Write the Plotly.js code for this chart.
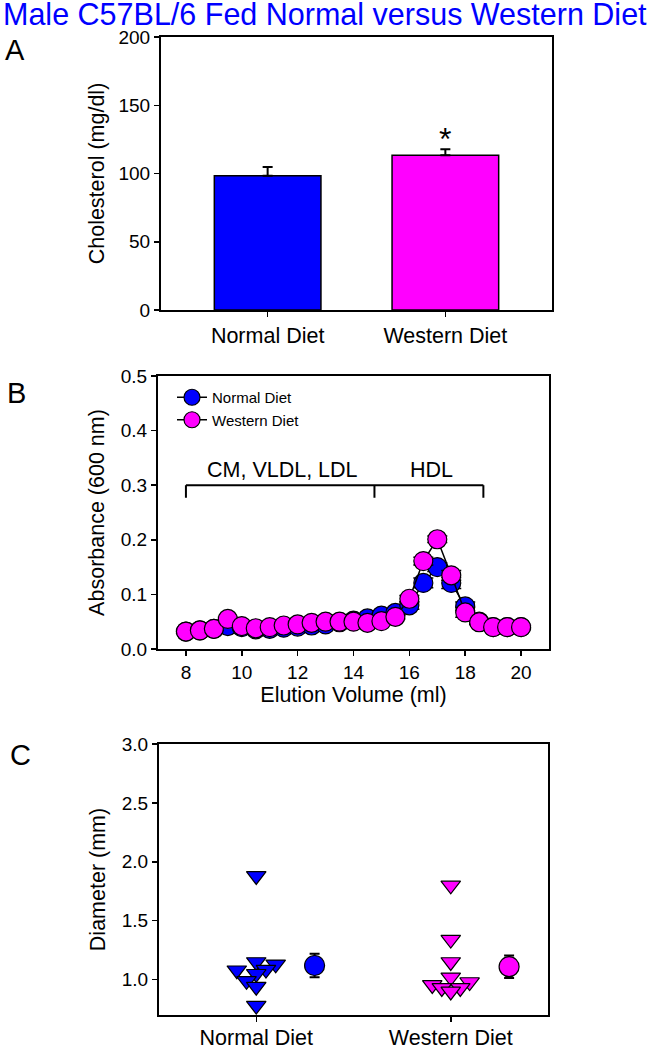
<!DOCTYPE html>
<html>
<head>
<meta charset="utf-8">
<script src="https://cdn.plot.ly/plotly-3.0.1.min.js"></script>
<style>html,body{margin:0;padding:0;background:#fff;}#chart{width:650px;height:1050px;}</style>
</head>
<body>
<div id="chart"></div>
<script>
// ---------- Data ----------
const dietGroups = ['Normal Diet', 'Western Diet'];

// Panel A: plasma cholesterol (mean, SE)
const cholesterolMean = [98.4, 113.3];
const cholesterolSE = [6.4, 4.4];

// Panel B: FPLC profile
const elutionVolume = [8, 8.5, 9, 9.5, 10, 10.5, 11, 11.5, 12, 12.5, 13, 13.5, 14, 14.5, 15, 15.5, 16, 16.5, 17, 17.5, 18, 18.5, 19, 19.5, 20];
const absNormal = [0.032, 0.034, 0.037, 0.042, 0.040, 0.036, 0.037, 0.039, 0.041, 0.043, 0.045, 0.049, 0.052, 0.056, 0.061, 0.066, 0.080, 0.121, 0.150, 0.121, 0.078, 0.050, 0.040, 0.040, 0.040];
const absNormalErr = [0.003, 0.003, 0.003, 0.003, 0.003, 0.003, 0.003, 0.003, 0.003, 0.003, 0.003, 0.003, 0.003, 0.003, 0.004, 0.004, 0.007, 0.009, 0.008, 0.010, 0.008, 0.004, 0.003, 0.003, 0.003];
const absWestern = [0.032, 0.034, 0.037, 0.055, 0.042, 0.038, 0.040, 0.043, 0.045, 0.048, 0.050, 0.050, 0.050, 0.048, 0.051, 0.059, 0.092, 0.161, 0.201, 0.135, 0.067, 0.049, 0.040, 0.040, 0.040];
const absWesternErr = [0.003, 0.003, 0.003, 0.003, 0.003, 0.003, 0.003, 0.003, 0.003, 0.003, 0.003, 0.003, 0.003, 0.003, 0.003, 0.004, 0.006, 0.007, 0.006, 0.009, 0.009, 0.004, 0.003, 0.003, 0.003];

// Panel C: individual diameters and group means
const diameterNormal = [1.88, 1.08, 1.15, 1.13, 1.085, 1.05, 0.99, 0.94, 0.78];
const jitterNormal = [0, -0.10, 0, 0.10, 0.05, 0, -0.05, 0, 0];
const diameterWestern = [1.80, 1.34, 1.15, 1.02, 0.955, 0.98, 0.93, 0.93, 0.90];
const jitterWestern = [0, 0, 0, 0, -0.095, 0.097, -0.046, 0.049, 0];
const diameterMean = [1.12, 1.11];
const diameterSE = [0.10, 0.095];
const meanOffset = 0.3;

// ---------- Styling ----------
const BLUE = '#0000FF', PINK = '#FF00FF';
const FONT = 'Liberation Sans, Arial, sans-serif';
const W = 650, H = 1050;
const px = v => v / W, py = v => 1 - v / H;

const axisBase = {
  showline: true, mirror: true, linecolor: '#000', linewidth: 2,
  ticks: 'outside', ticklen: 5, tickwidth: 1.5, tickcolor: '#000',
  showgrid: false, zeroline: false, fixedrange: true,
  tickfont: {family: FONT, size: 19, color: '#000'}
};
const titleFont = {family: FONT, size: 21.5, color: '#000'};

// ---------- Traces ----------
const traces = [];

// A: bars
traces.push({
  type: 'bar', x: [0, 1], y: cholesterolMean, width: 0.6,
  marker: {color: [BLUE, PINK], line: {color: '#000', width: 1.5}},
  error_y: {type: 'data', symmetric: false, array: cholesterolSE, arrayminus: [0, 0], color: '#000', thickness: 2, width: 5},
  xaxis: 'x', yaxis: 'y', showlegend: false, hoverinfo: 'skip'
});

// B: profiles
traces.push({
  type: 'scatter', mode: 'lines+markers', name: 'Normal Diet',
  x: elutionVolume, y: absNormal,
  error_y: {type: 'data', array: absNormalErr, color: '#000', thickness: 1.5, width: 10},
  line: {color: '#000', width: 1.5},
  marker: {color: BLUE, size: 19, line: {color: '#000', width: 1.2}},
  xaxis: 'x2', yaxis: 'y2'
});
traces.push({
  type: 'scatter', mode: 'lines+markers', name: 'Western Diet',
  x: elutionVolume, y: absWestern,
  error_y: {type: 'data', array: absWesternErr, color: '#000', thickness: 1.5, width: 10},
  line: {color: '#000', width: 1.5},
  marker: {color: PINK, size: 19, line: {color: '#000', width: 1.2}},
  xaxis: 'x2', yaxis: 'y2'
});

// C: individual points
traces.push({
  type: 'scatter', mode: 'markers',
  x: jitterNormal.map(j => 0 + j), y: diameterNormal,
  marker: {symbol: 'triangle-down', color: BLUE, size: 17, line: {color: '#000', width: 1.2}},
  xaxis: 'x3', yaxis: 'y3', showlegend: false
});
traces.push({
  type: 'scatter', mode: 'markers',
  x: jitterWestern.map(j => 1 + j), y: diameterWestern,
  marker: {symbol: 'triangle-down', color: PINK, size: 17, line: {color: '#000', width: 1.2}},
  xaxis: 'x3', yaxis: 'y3', showlegend: false
});
// C: means
traces.push({
  type: 'scatter', mode: 'markers',
  x: [0 + meanOffset, 1 + meanOffset], y: diameterMean,
  error_y: {type: 'data', array: diameterSE, color: '#000', thickness: 2, width: 5},
  marker: {symbol: 'circle', color: [BLUE, PINK], size: 20, line: {color: '#000', width: 1.2}},
  xaxis: 'x3', yaxis: 'y3', showlegend: false
});

// ---------- Layout ----------
const bracketY = 0.3, bracketDrop = 0.023;
const bracketX = [8, 14.75, 18.65];
const shapes = [
  {type: 'line', xref: 'x2', yref: 'y2', x0: bracketX[0], x1: bracketX[2], y0: bracketY, y1: bracketY, line: {color: '#000', width: 2}}
].concat(bracketX.map(b => ({type: 'line', xref: 'x2', yref: 'y2', x0: b, x1: b, y0: bracketY, y1: bracketY - bracketDrop, line: {color: '#000', width: 2}})));

const layout = {
  width: W, height: H,
  margin: {l: 0, r: 0, t: 0, b: 0},
  paper_bgcolor: '#fff', plot_bgcolor: '#fff',
  font: {family: FONT, color: '#000'},
  showlegend: true,
  legend: {
    x: px(172), y: py(381), xanchor: 'left', yanchor: 'top',
    bgcolor: 'rgba(0,0,0,0)', borderwidth: 0,
    font: {family: FONT, size: 15, color: '#000'}, traceorder: 'normal'
  },
  xaxis: Object.assign({}, axisBase, {
    domain: [px(161), px(552)], range: [-0.6, 1.6],
    tickmode: 'array', tickvals: [0, 1], ticktext: dietGroups,
    tickfont: {family: FONT, size: 21.5, color: '#000'}, anchor: 'y'
  }),
  yaxis: Object.assign({}, axisBase, {
    domain: [py(310), py(37)], range: [0, 200], dtick: 50, anchor: 'x',
    title: {text: 'Cholesterol (mg/dl)', font: titleFont, standoff: 8}
  }),
  xaxis2: Object.assign({}, axisBase, {
    domain: [px(158), px(549)], range: [7, 21], tick0: 8, dtick: 2, anchor: 'y2',
    title: {text: 'Elution Volume (ml)', font: titleFont, standoff: 4}
  }),
  yaxis2: Object.assign({}, axisBase, {
    domain: [py(649), py(376)], range: [0, 0.5], dtick: 0.1, tickformat: '.1f', anchor: 'x2',
    title: {text: 'Absorbance (600 nm)', font: titleFont, standoff: 10}
  }),
  xaxis3: Object.assign({}, axisBase, {
    domain: [px(159), px(548)], range: [-0.5, 1.5],
    tickmode: 'array', tickvals: [0, 1], ticktext: dietGroups, ticklabelstandoff: -3,
    tickfont: {family: FONT, size: 21.5, color: '#000'}, anchor: 'y3'
  }),
  yaxis3: Object.assign({}, axisBase, {
    domain: [py(1015), py(744)], range: [0.7, 3.0], tick0: 1.0, dtick: 0.5, tickformat: '.1f', anchor: 'x3',
    title: {text: 'Diameter (mm)', font: titleFont, standoff: 10}
  }),
  shapes: shapes,
  annotations: [
    {text: 'Male C57BL/6 Fed Normal versus Western Diet', xref: 'paper', yref: 'paper', x: 0.5, y: py(13), xanchor: 'center', yanchor: 'middle', height: 25, valign: 'middle', borderpad: 0, showarrow: false, font: {family: FONT, size: 30.5, color: BLUE}},
    {text: 'A', xref: 'paper', yref: 'paper', x: px(3), y: py(50), xanchor: 'left', yanchor: 'middle', showarrow: false, font: {family: FONT, size: 29, color: '#000'}},
    {text: 'B', xref: 'paper', yref: 'paper', x: px(5), y: py(393), xanchor: 'left', yanchor: 'middle', showarrow: false, font: {family: FONT, size: 29, color: '#000'}},
    {text: 'C', xref: 'paper', yref: 'paper', x: px(8), y: py(755), xanchor: 'left', yanchor: 'middle', showarrow: false, font: {family: FONT, size: 29, color: '#000'}},
    {text: '*', xref: 'x', yref: 'y', x: 1, y: 125, xanchor: 'center', yanchor: 'middle', showarrow: false, font: {family: FONT, size: 32, color: '#000'}},
    {text: 'CM, VLDL, LDL', xref: 'x2', yref: 'y2', x: 11.45, y: 0.327, xanchor: 'center', yanchor: 'middle', showarrow: false, font: {family: FONT, size: 21.5, color: '#000'}},
    {text: 'HDL', xref: 'x2', yref: 'y2', x: 16.8, y: 0.327, xanchor: 'center', yanchor: 'middle', showarrow: false, font: {family: FONT, size: 21.5, color: '#000'}}
  ]
};

Plotly.newPlot('chart', traces, layout, {staticPlot: true, displayModeBar: false});
</script>
</body>
</html>
